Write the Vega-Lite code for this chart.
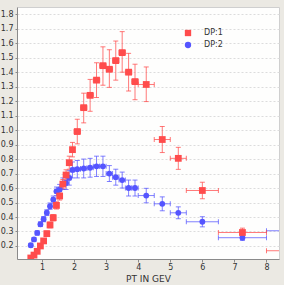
{
  "$schema": "https://vega.github.io/schema/vega-lite/v6.json",
  "width": 262,
  "height": 252,
  "autosize": "none",
  "padding": {"left": 17, "top": 7, "right": 5, "bottom": 26},
  "background": "#ebe9e3",
  "config": {
    "view": {"fill": "#fefefd", "stroke": "#cfcfcf"},
    "font": "DejaVu Sans",
    "axis": {"labelFont": "DejaVu Sans", "labelFontSize": 8, "labelColor": "#333333", "domainColor": "#8a8a8a", "tickColor": "#8a8a8a", "titleFont": "DejaVu Sans", "titleFontWeight": "normal", "titleColor": "#333333", "labelOverlap": false, "labelFlush": false, "labelBound": false},
    "axisX": {"titleFontSize": 9, "titleY": 15, "titleBaseline": "top", "grid": false, "tickSize": 3, "labelPadding": 1},
    "axisY": {"grid": true, "gridColor": "#dcdcdc", "gridDash": [2, 2], "tickSize": 2, "labelPadding": 2}
  },
  "data": {"values": [
    {"s": "DP:2", "x": 0.65, "y": 0.205, "xlo": 0.6, "xhi": 0.7, "ylo": 0.195, "yhi": 0.215},
    {"s": "DP:2", "x": 0.75, "y": 0.245, "xlo": 0.7, "xhi": 0.8, "ylo": 0.233, "yhi": 0.257},
    {"s": "DP:2", "x": 0.85, "y": 0.29, "xlo": 0.8, "xhi": 0.9, "ylo": 0.276, "yhi": 0.304},
    {"s": "DP:2", "x": 0.95, "y": 0.35, "xlo": 0.9, "xhi": 1.0, "ylo": 0.334, "yhi": 0.366},
    {"s": "DP:2", "x": 1.05, "y": 0.385, "xlo": 1.0, "xhi": 1.1, "ylo": 0.367, "yhi": 0.403},
    {"s": "DP:2", "x": 1.15, "y": 0.43, "xlo": 1.1, "xhi": 1.2, "ylo": 0.41, "yhi": 0.45},
    {"s": "DP:2", "x": 1.25, "y": 0.475, "xlo": 1.2, "xhi": 1.3, "ylo": 0.453, "yhi": 0.497},
    {"s": "DP:2", "x": 1.35, "y": 0.52, "xlo": 1.3, "xhi": 1.4, "ylo": 0.495, "yhi": 0.545},
    {"s": "DP:2", "x": 1.45, "y": 0.577, "xlo": 1.4, "xhi": 1.5, "ylo": 0.547, "yhi": 0.607},
    {"s": "DP:2", "x": 1.55, "y": 0.59, "xlo": 1.5, "xhi": 1.6, "ylo": 0.555, "yhi": 0.625},
    {"s": "DP:2", "x": 1.65, "y": 0.63, "xlo": 1.6, "xhi": 1.7, "ylo": 0.59, "yhi": 0.67},
    {"s": "DP:2", "x": 1.75, "y": 0.635, "xlo": 1.7, "xhi": 1.8, "ylo": 0.59, "yhi": 0.68},
    {"s": "DP:2", "x": 1.85, "y": 0.67, "xlo": 1.8, "xhi": 1.9, "ylo": 0.62, "yhi": 0.72},
    {"s": "DP:2", "x": 1.95, "y": 0.725, "xlo": 1.9, "xhi": 2.0, "ylo": 0.67, "yhi": 0.78},
    {"s": "DP:2", "x": 2.1, "y": 0.73, "xlo": 2.0, "xhi": 2.2, "ylo": 0.67, "yhi": 0.79},
    {"s": "DP:2", "x": 2.3, "y": 0.735, "xlo": 2.2, "xhi": 2.4, "ylo": 0.67, "yhi": 0.8},
    {"s": "DP:2", "x": 2.5, "y": 0.74, "xlo": 2.4, "xhi": 2.6, "ylo": 0.675, "yhi": 0.805},
    {"s": "DP:2", "x": 2.7, "y": 0.75, "xlo": 2.6, "xhi": 2.8, "ylo": 0.68, "yhi": 0.82},
    {"s": "DP:2", "x": 2.9, "y": 0.75, "xlo": 2.8, "xhi": 3.0, "ylo": 0.68, "yhi": 0.82},
    {"s": "DP:2", "x": 3.1, "y": 0.70, "xlo": 3.0, "xhi": 3.2, "ylo": 0.645, "yhi": 0.755},
    {"s": "DP:2", "x": 3.3, "y": 0.675, "xlo": 3.2, "xhi": 3.4, "ylo": 0.62, "yhi": 0.73},
    {"s": "DP:2", "x": 3.5, "y": 0.655, "xlo": 3.4, "xhi": 3.6, "ylo": 0.6, "yhi": 0.71},
    {"s": "DP:2", "x": 3.7, "y": 0.60, "xlo": 3.6, "xhi": 3.8, "ylo": 0.545, "yhi": 0.655},
    {"s": "DP:2", "x": 3.9, "y": 0.60, "xlo": 3.8, "xhi": 4.0, "ylo": 0.545, "yhi": 0.655},
    {"s": "DP:2", "x": 4.25, "y": 0.548, "xlo": 4.0, "xhi": 4.5, "ylo": 0.498, "yhi": 0.598},
    {"s": "DP:2", "x": 4.75, "y": 0.491, "xlo": 4.5, "xhi": 5.0, "ylo": 0.443, "yhi": 0.539},
    {"s": "DP:2", "x": 5.25, "y": 0.429, "xlo": 5.0, "xhi": 5.5, "ylo": 0.388, "yhi": 0.47},
    {"s": "DP:2", "x": 6.0, "y": 0.367, "xlo": 5.5, "xhi": 6.5, "ylo": 0.332, "yhi": 0.402},
    {"s": "DP:2", "x": 7.25, "y": 0.257, "xlo": 6.5, "xhi": 8.0, "ylo": 0.239, "yhi": 0.275},
    {"s": "DP:2", "x": 8.5, "y": 0.305, "xlo": 8.0, "xhi": 9.0, "ylo": 0.295, "yhi": 0.315},
    {"s": "DP:1", "x": 0.65, "y": 0.117, "xlo": 0.6, "xhi": 0.7, "ylo": 0.107, "yhi": 0.127},
    {"s": "DP:1", "x": 0.75, "y": 0.137, "xlo": 0.7, "xhi": 0.8, "ylo": 0.127, "yhi": 0.147},
    {"s": "DP:1", "x": 0.85, "y": 0.163, "xlo": 0.8, "xhi": 0.9, "ylo": 0.151, "yhi": 0.175},
    {"s": "DP:1", "x": 0.95, "y": 0.20, "xlo": 0.9, "xhi": 1.0, "ylo": 0.186, "yhi": 0.214},
    {"s": "DP:1", "x": 1.05, "y": 0.235, "xlo": 1.0, "xhi": 1.1, "ylo": 0.219, "yhi": 0.251},
    {"s": "DP:1", "x": 1.15, "y": 0.285, "xlo": 1.1, "xhi": 1.2, "ylo": 0.267, "yhi": 0.303},
    {"s": "DP:1", "x": 1.25, "y": 0.345, "xlo": 1.2, "xhi": 1.3, "ylo": 0.325, "yhi": 0.365},
    {"s": "DP:1", "x": 1.35, "y": 0.395, "xlo": 1.3, "xhi": 1.4, "ylo": 0.373, "yhi": 0.417},
    {"s": "DP:1", "x": 1.45, "y": 0.48, "xlo": 1.4, "xhi": 1.5, "ylo": 0.455, "yhi": 0.505},
    {"s": "DP:1", "x": 1.55, "y": 0.545, "xlo": 1.5, "xhi": 1.6, "ylo": 0.517, "yhi": 0.573},
    {"s": "DP:1", "x": 1.65, "y": 0.627, "xlo": 1.6, "xhi": 1.7, "ylo": 0.595, "yhi": 0.659},
    {"s": "DP:1", "x": 1.75, "y": 0.69, "xlo": 1.7, "xhi": 1.8, "ylo": 0.654, "yhi": 0.726},
    {"s": "DP:1", "x": 1.85, "y": 0.775, "xlo": 1.8, "xhi": 1.9, "ylo": 0.73, "yhi": 0.82},
    {"s": "DP:1", "x": 1.95, "y": 0.865, "xlo": 1.9, "xhi": 2.0, "ylo": 0.815, "yhi": 0.915},
    {"s": "DP:1", "x": 2.1, "y": 0.99, "xlo": 2.0, "xhi": 2.2, "ylo": 0.905, "yhi": 1.075},
    {"s": "DP:1", "x": 2.3, "y": 1.155, "xlo": 2.2, "xhi": 2.4, "ylo": 1.05, "yhi": 1.255},
    {"s": "DP:1", "x": 2.5, "y": 1.24, "xlo": 2.4, "xhi": 2.6, "ylo": 1.13, "yhi": 1.35},
    {"s": "DP:1", "x": 2.7, "y": 1.345, "xlo": 2.6, "xhi": 2.8, "ylo": 1.225, "yhi": 1.465},
    {"s": "DP:1", "x": 2.9, "y": 1.445, "xlo": 2.8, "xhi": 3.0, "ylo": 1.31, "yhi": 1.575},
    {"s": "DP:1", "x": 3.1, "y": 1.42, "xlo": 3.0, "xhi": 3.2, "ylo": 1.295, "yhi": 1.555},
    {"s": "DP:1", "x": 3.3, "y": 1.48, "xlo": 3.2, "xhi": 3.4, "ylo": 1.345, "yhi": 1.615},
    {"s": "DP:1", "x": 3.5, "y": 1.535, "xlo": 3.4, "xhi": 3.6, "ylo": 1.4, "yhi": 1.68},
    {"s": "DP:1", "x": 3.7, "y": 1.40, "xlo": 3.6, "xhi": 3.8, "ylo": 1.27, "yhi": 1.53},
    {"s": "DP:1", "x": 3.9, "y": 1.335, "xlo": 3.8, "xhi": 4.0, "ylo": 1.21, "yhi": 1.455},
    {"s": "DP:1", "x": 4.25, "y": 1.315, "xlo": 4.0, "xhi": 4.5, "ylo": 1.197, "yhi": 1.436},
    {"s": "DP:1", "x": 4.75, "y": 0.935, "xlo": 4.5, "xhi": 5.0, "ylo": 0.845, "yhi": 1.025},
    {"s": "DP:1", "x": 5.25, "y": 0.805, "xlo": 5.0, "xhi": 5.5, "ylo": 0.729, "yhi": 0.881},
    {"s": "DP:1", "x": 6.0, "y": 0.583, "xlo": 5.5, "xhi": 6.5, "ylo": 0.526, "yhi": 0.64},
    {"s": "DP:1", "x": 7.25, "y": 0.293, "xlo": 6.5, "xhi": 8.0, "ylo": 0.263, "yhi": 0.323},
    {"s": "DP:1", "x": 8.5, "y": 0.167, "xlo": 8.0, "xhi": 9.0, "ylo": 0.157, "yhi": 0.177}
  ]},
  "layer": [
    {
      "mark": {"type": "rule", "strokeWidth": 1, "opacity": 0.75, "clip": true},
      "encoding": {
        "x": {"field": "x", "type": "quantitative", "scale": {"domain": [0.22, 8.39], "nice": false, "zero": false},
              "axis": {"title": "PT IN GEV", "values": [1, 2, 3, 4, 5, 6, 7, 8]}},
        "y": {"field": "ylo", "type": "quantitative", "scale": {"domain": [0.11, 1.85], "nice": false, "zero": false},
              "axis": {"title": null, "format": ".1f", "values": [0.2, 0.3, 0.4, 0.5, 0.6, 0.7, 0.8, 0.9, 1.0, 1.1, 1.2, 1.3, 1.4, 1.5, 1.6, 1.7, 1.8]}},
        "y2": {"field": "yhi"},
        "stroke": {"field": "s", "type": "nominal", "scale": {"domain": ["DP:1", "DP:2"], "range": ["#ff4c4c", "#5555ff"]}, "legend": null}
      }
    },
    {
      "mark": {"type": "rule", "strokeWidth": 1, "opacity": 0.75, "clip": true},
      "encoding": {
        "x": {"field": "xlo", "type": "quantitative", "axis": {"title": "PT IN GEV", "values": [1, 2, 3, 4, 5, 6, 7, 8]}},
        "x2": {"field": "xhi"},
        "y": {"field": "y", "type": "quantitative", "axis": {"title": null, "format": ".1f", "values": [0.2, 0.3, 0.4, 0.5, 0.6, 0.7, 0.8, 0.9, 1.0, 1.1, 1.2, 1.3, 1.4, 1.5, 1.6, 1.7, 1.8]}},
        "stroke": {"field": "s", "type": "nominal", "legend": null}
      }
    },
    {
      "mark": {"type": "tick", "orient": "horizontal", "size": 5, "thickness": 1, "opacity": 0.75, "clip": true},
      "encoding": {
        "x": {"field": "x", "type": "quantitative", "axis": {"title": "PT IN GEV", "values": [1, 2, 3, 4, 5, 6, 7, 8]}},
        "y": {"field": "ylo", "type": "quantitative", "axis": {"title": null, "format": ".1f", "values": [0.2, 0.3, 0.4, 0.5, 0.6, 0.7, 0.8, 0.9, 1.0, 1.1, 1.2, 1.3, 1.4, 1.5, 1.6, 1.7, 1.8]}},
        "fill": {"field": "s", "type": "nominal", "scale": {"domain": ["DP:1", "DP:2"], "range": ["#ff4c4c", "#5555ff"]}, "legend": null}
      }
    },
    {
      "mark": {"type": "tick", "orient": "horizontal", "size": 5, "thickness": 1, "opacity": 0.75, "clip": true},
      "encoding": {
        "x": {"field": "x", "type": "quantitative", "axis": {"title": "PT IN GEV", "values": [1, 2, 3, 4, 5, 6, 7, 8]}},
        "y": {"field": "yhi", "type": "quantitative", "axis": {"title": null, "format": ".1f", "values": [0.2, 0.3, 0.4, 0.5, 0.6, 0.7, 0.8, 0.9, 1.0, 1.1, 1.2, 1.3, 1.4, 1.5, 1.6, 1.7, 1.8]}},
        "fill": {"field": "s", "type": "nominal", "legend": null}
      }
    },
    {
      "mark": {"type": "tick", "orient": "vertical", "size": 5, "thickness": 1, "opacity": 0.75, "clip": true},
      "encoding": {
        "x": {"field": "xlo", "type": "quantitative", "axis": {"title": "PT IN GEV", "values": [1, 2, 3, 4, 5, 6, 7, 8]}},
        "y": {"field": "y", "type": "quantitative", "axis": {"title": null, "format": ".1f", "values": [0.2, 0.3, 0.4, 0.5, 0.6, 0.7, 0.8, 0.9, 1.0, 1.1, 1.2, 1.3, 1.4, 1.5, 1.6, 1.7, 1.8]}},
        "fill": {"field": "s", "type": "nominal", "legend": null}
      }
    },
    {
      "mark": {"type": "tick", "orient": "vertical", "size": 5, "thickness": 1, "opacity": 0.75, "clip": true},
      "encoding": {
        "x": {"field": "xhi", "type": "quantitative", "axis": {"title": "PT IN GEV", "values": [1, 2, 3, 4, 5, 6, 7, 8]}},
        "y": {"field": "y", "type": "quantitative", "axis": {"title": null, "format": ".1f", "values": [0.2, 0.3, 0.4, 0.5, 0.6, 0.7, 0.8, 0.9, 1.0, 1.1, 1.2, 1.3, 1.4, 1.5, 1.6, 1.7, 1.8]}},
        "fill": {"field": "s", "type": "nominal", "legend": null}
      }
    },
    {
      "mark": {"type": "point", "filled": true, "opacity": 1, "clip": true},
      "encoding": {
        "x": {"field": "x", "type": "quantitative", "axis": {"title": "PT IN GEV", "values": [1, 2, 3, 4, 5, 6, 7, 8]}},
        "y": {"field": "y", "type": "quantitative", "axis": {"title": null, "format": ".1f", "values": [0.2, 0.3, 0.4, 0.5, 0.6, 0.7, 0.8, 0.9, 1.0, 1.1, 1.2, 1.3, 1.4, 1.5, 1.6, 1.7, 1.8]}},
        "size": {"field": "s", "type": "nominal", "scale": {"domain": ["DP:1", "DP:2"], "range": [46, 34]}, "legend": null},
        "color": {"field": "s", "type": "nominal", "scale": {"range": ["#ff4c4c", "#5555ff"]},
                  "legend": {"title": null, "orient": "none", "legendX": 167, "legendY": 22, "padding": 0, "labelFont": "DejaVu Sans", "labelFontSize": 8, "labelColor": "#333333", "labelOffset": 12, "rowPadding": 4, "symbolSize": 40}},
        "shape": {"field": "s", "type": "nominal", "scale": {"range": ["square", "circle"]},
                  "legend": {"title": null, "orient": "none", "legendX": 167, "legendY": 22, "padding": 0, "labelFont": "DejaVu Sans", "labelFontSize": 8, "labelColor": "#333333", "labelOffset": 12, "rowPadding": 4, "symbolSize": 40}}
      }
    }
  ]
}
